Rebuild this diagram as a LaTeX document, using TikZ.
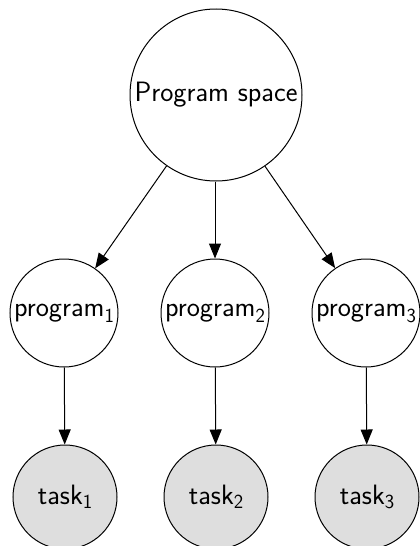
\documentclass[tikz,border=0pt]{standalone}
\usetikzlibrary{arrows.meta}
\definecolor{taskgray}{RGB}{222,222,222}
\newcommand{\subp}[1]{\raisebox{-6pt}{\fontsize{20}{20}\selectfont #1}}
\newcommand{\subt}[1]{\raisebox{-4pt}{\fontsize{20}{20}\selectfont #1}}
\begin{document}
\begin{tikzpicture}[x=1pt,y=-1pt,
  every node/.style={font=\fontsize{28}{32}\selectfont\sffamily},
  bignode/.style={draw,circle,line width=1pt,inner sep=0pt,minimum size=172pt},
  prognode/.style={draw,circle,line width=1pt,inner sep=0pt,minimum size=108pt},
  tasknode/.style={draw,circle,line width=1pt,inner sep=0pt,minimum size=104pt,fill=taskgray},
  conn/.style={line width=1pt,-{Triangle[length=15pt,width=12pt]}}]
\useasboundingbox (0,0) rectangle (420,546);
\node[bignode] (space) at (216,95) {Program space};
\node[prognode] (p1) at (64,313) {program\subp{1}};
\node[prognode] (p2) at (215,313) {program\subp{2}};
\node[prognode] (p3) at (366,313) {program\subp{3}};
\node[tasknode] (t1) at (65,497) {task\subt{1}};
\node[tasknode] (t2) at (216,497) {task\subt{2}};
\node[tasknode] (t3) at (367,497) {task\subt{3}};
\draw[conn] (space) -- (p1);
\draw[conn] (space.south -| p2) -- (p2);
\draw[conn] (space) -- (p3);
\draw[conn] (p1) -- (t1);
\draw[conn] (p2) -- (t2);
\draw[conn] (p3) -- (t3);
\end{tikzpicture}
\end{document}
